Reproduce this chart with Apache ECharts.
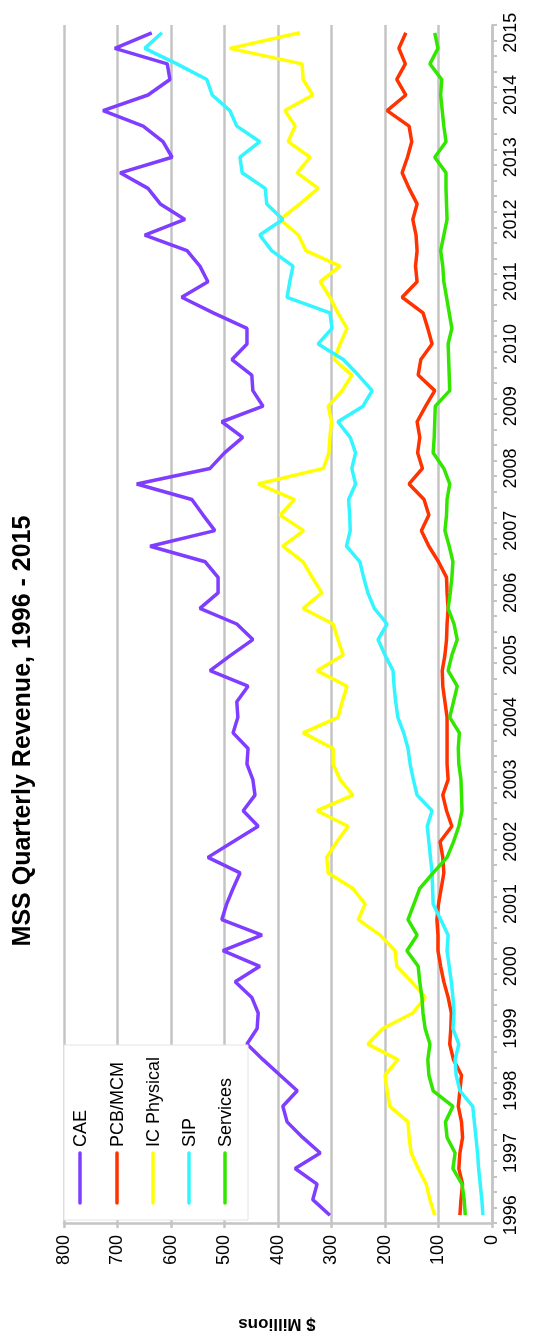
<!doctype html>
<html>
<head>
<meta charset="utf-8">
<title>MSS Quarterly Revenue, 1996 - 2015</title>
<style>
  html, body { margin: 0; padding: 0; background: #fff; }
  #main { width: 533px; height: 1336px; }
</style>
</head>
<body>
<div id="main"></div>
<script src="https://cdn.jsdelivr.net/npm/echarts@6/dist/echarts.min.js"></script>
<script>
// quarterly revenue, $ millions, 1996 Q1 .. 2015 Q1
var years = [1996, 1997, 1998, 1999, 2000, 2001, 2002, 2003, 2004, 2005,
             2006, 2007, 2008, 2009, 2010, 2011, 2012, 2013, 2014, 2015];

var cae = [303, 335, 327, 368, 321, 354, 383, 391, 364, 396, 428, 458, 439, 437, 449, 480,
           434, 503, 430, 505, 496, 484, 471, 531, 484, 437, 465, 443, 447, 458, 456, 484,
           475, 477, 456, 527, 488, 447, 477, 546, 512, 512, 536, 639, 518, 540, 561, 664,
           527, 500, 466, 505, 428, 447, 449, 486, 458, 458, 521, 580, 531, 546, 570, 649,
           574, 620, 643, 695, 598, 615, 652, 727, 643, 602, 607, 705, 636];

var pcb = [60, 58, 55, 62, 60, 55, 57, 63, 60, 57, 72, 79, 77, 76, 82, 90,
           96, 101, 101, 103, 100, 95, 90, 92, 97, 75, 85, 92, 82, 84, 84, 84,
           84, 88, 92, 93, 88, 85, 84, 82, 84, 85, 100, 118, 132, 118, 127, 155,
           130, 139, 135, 140, 124, 107, 138, 133, 112, 120, 129, 168, 140, 143, 140, 142,
           148, 140, 155, 168, 158, 150, 155, 196, 161, 178, 162, 174, 161];

var icPhysical = [107, 116, 123, 138, 151, 155, 157, 191, 196, 200, 176, 232, 204, 148, 125, 150,
                  178, 181, 209, 250, 237, 260, 306, 309, 290, 269, 327, 260, 284, 297, 297, 353,
                  288, 280, 271, 327, 278, 288, 297, 353, 318, 336, 353, 391, 352, 396, 369, 437,
                  315, 305, 303, 300, 306, 280, 262, 295, 284, 271, 288, 303, 321, 284, 348, 362,
                  396, 359, 325, 364, 340, 381, 368, 387, 335, 353, 355, 490, 359];

var sip = [17, 19, 22, 25, 27, 30, 33, 36, 60, 67, 69, 62, 73, 71, 73, 76,
           80, 84, 82, 96, 110, 111, 112, 115, 118, 121, 112, 140, 147, 153, 157, 165,
           176, 180, 183, 185, 200, 213, 196, 220, 232, 240, 247, 272, 265, 266, 268, 255,
           262, 255, 265, 288, 241, 224, 250, 278, 325, 299, 303, 383, 378, 372, 412, 434,
           391, 421, 424, 467, 471, 434, 477, 490, 523, 533, 589, 649, 617];

var services = [50, 52, 56, 73, 69, 84, 87, 73, 110, 118, 120, 116, 125, 129, 131, 135,
                138, 159, 140, 157, 146, 135, 110, 84, 72, 62, 56, 57, 58, 62, 63, 61,
                79, 72, 65, 82, 75, 65, 71, 82, 78, 75, 73, 80, 88, 85, 84, 79,
                90, 110, 108, 107, 106, 79, 80, 81, 82, 75, 80, 85, 90, 92, 96, 90,
                84, 85, 86, 86, 107, 86, 90, 93, 96, 94, 116, 101, 107];

var names = ['CAE', 'PCB/MCM', 'IC Physical', 'SIP', 'Services'];
var values = [cae, pcb, icPhysical, sip, services];
var colors = ['#7f3dff', '#ff3300', '#ffff00', '#33f5ff', '#33e600'];

var quarters = [];
years.forEach(function (y) {
    for (var q = 1; q <= 4; q++) quarters.push(y + ' Q' + q);
});
quarters = quarters.slice(0, cae.length);

var font = '"Liberation Sans", Arial, sans-serif';
var gridGray = '#c4c4c4';

var chart = echarts.init(document.getElementById('main'));

// legend drawn by hand: icons upright, text turned like the rest of the chart
var legendX = [80, 117, 153, 189, 225];
var graphic = [
    {
        type: 'text', x: 23, y: 731, rotation: Math.PI / 2,
        style: { text: 'MSS Quarterly Revenue, 1996 - 2015', fill: '#000',
                 font: 'bold 25px ' + font, textAlign: 'center', textVerticalAlign: 'middle' }
    },
    {
        type: 'text', x: 277, y: 1324, rotation: Math.PI,
        style: { text: '$ Millions', fill: '#000',
                 font: 'bold 17px ' + font, textAlign: 'center', textVerticalAlign: 'middle' }
    },
    {
        type: 'rect', z: 50,
        shape: { x: 64, y: 1045, width: 184, height: 175 },
        style: { fill: '#fff', stroke: '#e4e4e4', lineWidth: 1 }
    }
];
names.forEach(function (n, i) {
    graphic.push({
        type: 'line', z: 51,
        shape: { x1: legendX[i], y1: 1153, x2: legendX[i], y2: 1203 },
        style: { stroke: colors[i], lineWidth: 3.5, lineCap: 'round' }
    });
    graphic.push({
        type: 'text', z: 51, x: legendX[i] + 1, y: 1147, rotation: Math.PI / 2,
        style: { text: n, fill: '#000', font: '18px ' + font,
                 textAlign: 'left', textVerticalAlign: 'middle' }
    });
});

chart.setOption({
    animation: false,
    grid: { left: 64, right: 41, top: 25, bottom: 113 },
    xAxis: {
        type: 'value',
        inverse: true,
        position: 'bottom',
        min: 0,
        max: 800,
        interval: 100,
        axisLine: { show: true, onZero: false, lineStyle: { color: gridGray, width: 2.5 } },
        axisTick: { show: true, length: 5, lineStyle: { color: gridGray, width: 2.5 } },
        axisLabel: { rotate: 90, margin: 12, color: '#000', fontFamily: font, fontSize: 18 },
        splitLine: { show: true, lineStyle: { color: gridGray, width: 2.5 } }
    },
    yAxis: {
        type: 'category',
        position: 'right',
        data: quarters,
        boundaryGap: true,
        axisLine: { show: true, onZero: false, lineStyle: { color: gridGray, width: 2.5 } },
        axisTick: { show: true, interval: 0, length: 5, lineStyle: { color: gridGray, width: 2 } },
        axisLabel: {
            rotate: 90, interval: 3, margin: 10, color: '#000', fontFamily: font, fontSize: 18,
            formatter: function (v) { return v.slice(0, 4); }
        },
        splitLine: { show: false }
    },
    series: names.map(function (n, i) {
        return {
            type: 'line',
            name: n,
            data: values[i],
            symbol: 'none',
            lineStyle: { color: colors[i], width: 3.5 },
            itemStyle: { color: colors[i] }
        };
    }),
    graphic: graphic
});

window.onresize = chart.resize;
</script>
</body>
</html>
